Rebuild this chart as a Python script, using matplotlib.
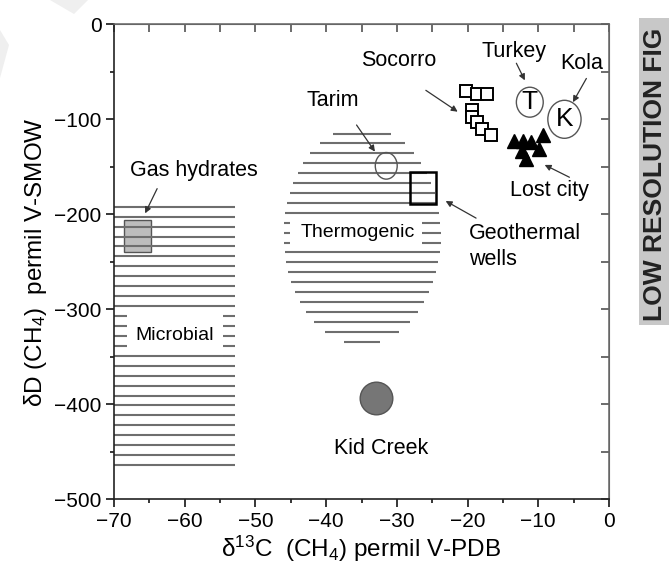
import numpy as np
import matplotlib
matplotlib.use("Agg")
import matplotlib.pyplot as plt
from matplotlib.patches import Ellipse, Rectangle, Polygon
from matplotlib.ticker import MultipleLocator

plt.rcParams['font.family'] = ['Liberation Sans', 'DejaVu Sans']
plt.rcParams['mathtext.fontset'] = 'custom'
plt.rcParams['mathtext.rm'] = 'Liberation Sans'
plt.rcParams['mathtext.it'] = 'Liberation Sans:italic'

# d13C (x) / dD (y) of methane, permil
socorro_x = [-20.2, -18.7, -17.2, -19.4, -19.4, -18.6, -17.9, -16.7]
socorro_y = [-70, -73, -73, -90, -98, -103, -110, -116]
lostcity_x = [-13.4, -12.2, -11.0, -9.4, -12.3, -9.9, -11.7]
lostcity_y = [-123, -123, -124, -117, -133, -131, -142]
turkey = (-11.2, -82)
kola = (-6.3, -100)
tarim = (-31.5, -149)
geothermal = (-26.3, -172)
gas_hydrates = (-66.7, -223)
kid_creek = (-33.0, -393)

# fields
microbial_x = [-70, -52.9]
microbial_y = [-192, -464]
thermo_center = (-34.9, -222)
thermo_half = (11.1, 115)
thermo_y = [-115, -334]

# labels: text, x, y, ha
labels = [
    ("Socorro", -29.7, -38, "center"),
    ("Turkey", -13.4, -29, "center"),
    ("Kola", -3.9, -41, "center"),
    ("Tarim", -39.0, -80, "center"),
    ("Lost city", -8.4, -175, "center"),
    ("Geothermal\nwells", -19.8, -234, "left"),
    ("Kid Creek", -32.2, -446, "center"),
    ("Gas hydrates", -58.7, -154, "center"),
]
# arrows: tail -> head
arrow_tail = [(-25.9, -69.5), (-13.1, -41), (-3.2, -57), (-35.7, -106),
              (-5.6, -161), (-18.8, -204), (-63.9, -173)]
arrow_head = [(-21.4, -92), (-11.9, -59), (-5.1, -82), (-33.1, -134),
              (-9.1, -148), (-23.1, -186), (-65.6, -199)]

xticks = [-70, -60, -50, -40, -30, -20, -10, 0]
yticks = [0, -100, -200, -300, -400, -500]

fig = plt.figure(figsize=(6.69, 5.73), dpi=100)
ax = fig.add_axes([114 / 669, 1 - 499.3 / 573, 495 / 669, 475 / 573])
ax.set_xlim(-70, 0)
ax.set_ylim(-500, 0)

hatch_col = '#6e6e6e'
hatch_lw = 1.5

# microbial field: horizontal hatching with a gap for its name
for y in np.linspace(microbial_y[0], microbial_y[1], 27):
    if -345 < y < -303:
        ax.hlines(y, microbial_x[0], -68.2, color=hatch_col, lw=hatch_lw, zorder=2)
        ax.hlines(y, -54.6, microbial_x[1], color=hatch_col, lw=hatch_lw, zorder=2)
    else:
        ax.hlines(y, microbial_x[0], microbial_x[1], color=hatch_col, lw=hatch_lw, zorder=2)
ax.text(-61.4, -328, "Microbial", ha='center', va='center', fontsize=14)

# thermogenic field: hatching clipped to an ellipse
cx, cy = thermo_center
a, b = thermo_half
for y in np.linspace(thermo_y[0], thermo_y[1], 22):
    hw = a * np.sqrt(max(0.0, 1 - ((y - cy) / b) ** 2))
    if -233 < y < -205:
        ax.hlines(y, cx - hw, -45.1, color=hatch_col, lw=hatch_lw, zorder=2)
        ax.hlines(y, -26.4, cx + hw, color=hatch_col, lw=hatch_lw, zorder=2)
    else:
        ax.hlines(y, cx - hw, cx + hw, color=hatch_col, lw=hatch_lw, zorder=2)
ax.text(-35.5, -219, "Thermogenic", ha='center', va='center', fontsize=14)

# gas hydrates and geothermal wells boxes
ax.add_patch(Rectangle((gas_hydrates[0] - 1.9, gas_hydrates[1] - 16.8), 3.8, 33.6,
                       facecolor='#bdbdbd', edgecolor='#555555', lw=1, zorder=1))
ax.add_patch(Rectangle((geothermal[0] - 1.9, geothermal[1] - 16.8), 3.8, 33.6,
                       facecolor='none', edgecolor='black', lw=1.8, zorder=3))

# Tarim, Turkey, Kola
ax.add_patch(Ellipse(tarim, 3.1, 28, facecolor='none', edgecolor='#555555', lw=1, zorder=3))
ax.add_patch(Ellipse(turkey, 3.8, 31.5, facecolor='white', edgecolor='#555555', lw=1, zorder=3))
ax.add_patch(Ellipse(kola, 4.7, 40, facecolor='white', edgecolor='#555555', lw=1, zorder=3))
ax.text(turkey[0], turkey[1], "T", ha='center', va='center', fontsize=19, zorder=4)
ax.text(kola[0], kola[1], "K", ha='center', va='center', fontsize=19, zorder=4)

ax.plot(socorro_x, socorro_y, 's', ms=8, mfc='white', mec='black', mew=1.4, zorder=4)
ax.plot(lostcity_x, lostcity_y, '^', ms=10, color='black', zorder=4)
ax.plot(*kid_creek, 'o', ms=23.5, mfc='#767676', mec='#555555', mew=1, zorder=4)

for text, x, y, ha in labels:
    ax.text(x, y, text, ha=ha, va='center', fontsize=15.5, linespacing=1.3)

for tail, head in zip(arrow_tail, arrow_head):
    ax.annotate('', xy=head, xytext=tail,
                arrowprops=dict(arrowstyle='-|>', color='#333333', lw=0.9,
                                mutation_scale=9, shrinkA=0, shrinkB=0))

# axes, ticks
ax.set_xticks(xticks)
ax.set_yticks(yticks)
ax.xaxis.set_minor_locator(MultipleLocator(5))
ax.yaxis.set_minor_locator(MultipleLocator(50))
ax.tick_params(which='major', direction='out', length=6, width=1.1, labelsize=15, pad=3)
ax.tick_params(which='minor', direction='out', length=3, width=1.1)
for s in ['left', 'bottom']:
    ax.spines[s].set_linewidth(1.2)
    ax.spines[s].set_color('#222222')
for s in ['top', 'right']:
    ax.spines[s].set_linewidth(1.1)
    ax.spines[s].set_color('#666666')

top = ax.secondary_xaxis('top')
top.set_xticks(xticks)
top.xaxis.set_minor_locator(MultipleLocator(5))
top.tick_params(which='both', direction='in', length=6, width=1.1, labeltop=False, color='#444444')
top.spines['top'].set_color('#666666')
right = ax.secondary_yaxis('right')
right.set_yticks(yticks)
right.yaxis.set_minor_locator(MultipleLocator(50))
right.tick_params(which='both', direction='in', length=6, width=1.1, labelright=False, color='#444444')
right.spines['right'].set_color('#666666')

ax.set_xlabel("δ$^{13}$C  (CH$_4$) permil V-PDB", fontsize=17.5, labelpad=2)
ax.set_ylabel("δD (CH$_4$)  permil V-SMOW", fontsize=17.5, labelpad=4)

# banner strip on the right edge
fig.add_artist(Rectangle((639 / 669, 1 - 325 / 573), 30 / 669, 307 / 573,
                         transform=fig.transFigure, facecolor='#c8c8c8', edgecolor='none'))
fig.text(655 / 669, 1 - 174 / 573, "LOW RESOLUTION FIG", rotation=90, ha='center', va='center',
         fontsize=19, fontweight='bold', color='#222222')

# faint corner marks
fig.add_artist(Polygon([[50 / 669, 1], [88 / 669, 1], [74 / 669, 1 - 14 / 573]],
                       transform=fig.transFigure, facecolor='#efefef', edgecolor='none'))
fig.add_artist(Polygon([[0, 1 - 30 / 573], [9 / 669, 1 - 45 / 573], [0, 1 - 78 / 573]],
                       transform=fig.transFigure, facecolor='#efefef', edgecolor='none'))

fig.savefig("out.png", dpi=100)
